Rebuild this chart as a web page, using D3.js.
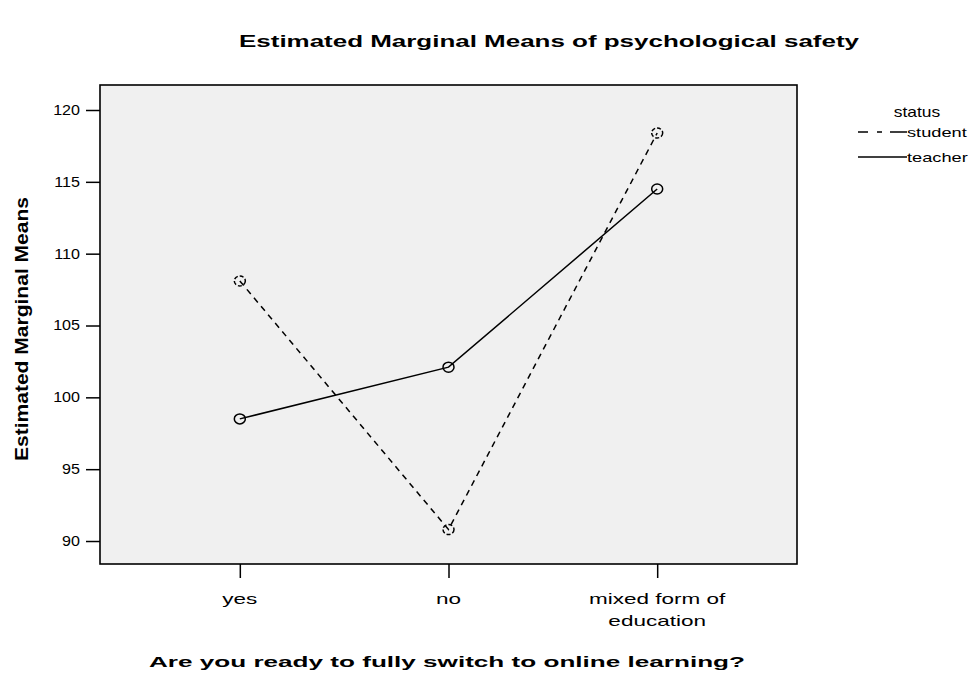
<!DOCTYPE html>
<html><head><meta charset="utf-8">
<script src="https://cdn.jsdelivr.net/npm/d3@7"></script>
<style>body{margin:0;background:#fff}svg{display:block}text{font-family:"Liberation Sans",Arial,sans-serif}</style>
</head><body><svg id="c" width="973" height="673"></svg>
<script>
const categories = ["yes", "no", "mixed form of education"];
const categoryLines = [["yes"], ["no"], ["mixed form of", "education"]];
const seriesNames = ["student", "teacher"];
const studentValues = [108.1, 90.8, 118.4];
const teacherValues = [98.5, 102.1, 114.5];
const yTicks = [90, 95, 100, 105, 110, 115, 120];

const svg = d3.select("#c");
const L = 100, R = 797, T = 85, B = 564;
const x = d3.scalePoint().domain(categories).range([L, R]).padding(0.67);
const y = d3.scaleLinear().domain([88.4, 121.74]).range([B, T]);

// stretch text horizontally (reference is a horizontally stretched bitmap)
function stretch(sel, f) {
  sel.each(function() {
    const w = this.getComputedTextLength();
    d3.select(this).attr("textLength", w * f).attr("lengthAdjust", "spacingAndGlyphs");
  });
}

svg.append("rect").attr("x", L).attr("y", T).attr("width", R - L).attr("height", B - T)
  .attr("fill", "#f0f0f0").attr("stroke", "#000").attr("stroke-width", 1.6);

const ya = svg.append("g").attr("transform", `translate(${L},0)`)
  .call(d3.axisLeft(y).tickValues(yTicks).tickSize(14).tickPadding(6).tickFormat(d3.format("d")));
ya.select(".domain").remove();
ya.selectAll("line").attr("stroke-width", 1.5);
ya.selectAll("text").attr("font-size", 14).attr("fill", "#000").attr("font-family", "Liberation Sans, Arial, sans-serif");
stretch(ya.selectAll("text"), 1.15);

const xa = svg.append("g").attr("transform", `translate(0,${B})`)
  .call(d3.axisBottom(x).tickSize(14).tickFormat(""));
xa.select(".domain").remove();
xa.selectAll("line").attr("stroke-width", 1.5);
categories.forEach((c, i) => {
  categoryLines[i].forEach((ln, j) => {
    const t = svg.append("text").attr("x", x(c)).attr("y", B + 40 + j * 22).attr("text-anchor", "middle")
      .attr("font-size", 15).attr("fill", "#000").text(ln);
    stretch(t, 1.5);
  });
});

const line = d3.line().x((d, i) => x(categories[i])).y(d => y(d));
const series = [
  {name: "student", vals: studentValues, dash: "6,5"},
  {name: "teacher", vals: teacherValues, dash: null}
];
series.forEach(s => {
  svg.append("path").datum(s.vals).attr("d", line).attr("fill", "none").attr("stroke", "#000")
    .attr("stroke-width", 1.5).attr("stroke-dasharray", s.dash);
  svg.selectAll(null).data(s.vals).enter().append("ellipse")
    .attr("cx", (d, i) => x(categories[i])).attr("cy", d => y(d)).attr("rx", 5.5).attr("ry", 5)
    .attr("fill", "none").attr("stroke", "#000").attr("stroke-width", 1.5)
    .attr("stroke-dasharray", s.dash ? "4,2" : null);
});

svg.append("text").attr("x", 549).attr("y", 47).attr("text-anchor", "middle")
  .attr("font-size", 16).attr("font-weight", "bold")
  .attr("textLength", 620).attr("lengthAdjust", "spacingAndGlyphs")
  .text("Estimated Marginal Means of psychological safety");
svg.append("text").attr("x", 447).attr("y", 667).attr("text-anchor", "middle")
  .attr("font-size", 15.5).attr("font-weight", "bold")
  .attr("textLength", 596).attr("lengthAdjust", "spacingAndGlyphs")
  .text("Are you ready to fully switch to online learning?");
svg.append("text").attr("transform", "translate(28,329) rotate(-90)").attr("text-anchor", "middle")
  .attr("font-size", 18.5).attr("font-weight", "bold")
  .attr("textLength", 264).attr("lengthAdjust", "spacingAndGlyphs")
  .text("Estimated Marginal Means");

const lg = svg.append("g");
const st = lg.append("text").attr("x", 917).attr("y", 117).attr("text-anchor", "middle").attr("font-size", 14.5).text("status");
stretch(st, 1.2);
series.forEach((s, i) => {
  const yy = 132 + i * 25;
  lg.append("line").attr("x1", 858).attr("x2", 907).attr("y1", yy).attr("y2", yy)
    .attr("stroke", "#000").attr("stroke-width", 1.5).attr("stroke-dasharray", s.dash ? "10,9,5,8,17" : null);
  const t = lg.append("text").attr("x", 907).attr("y", yy + 4.5).attr("font-size", 13).text(s.name);
  stretch(t, 1.4);
});
</script></body></html>
